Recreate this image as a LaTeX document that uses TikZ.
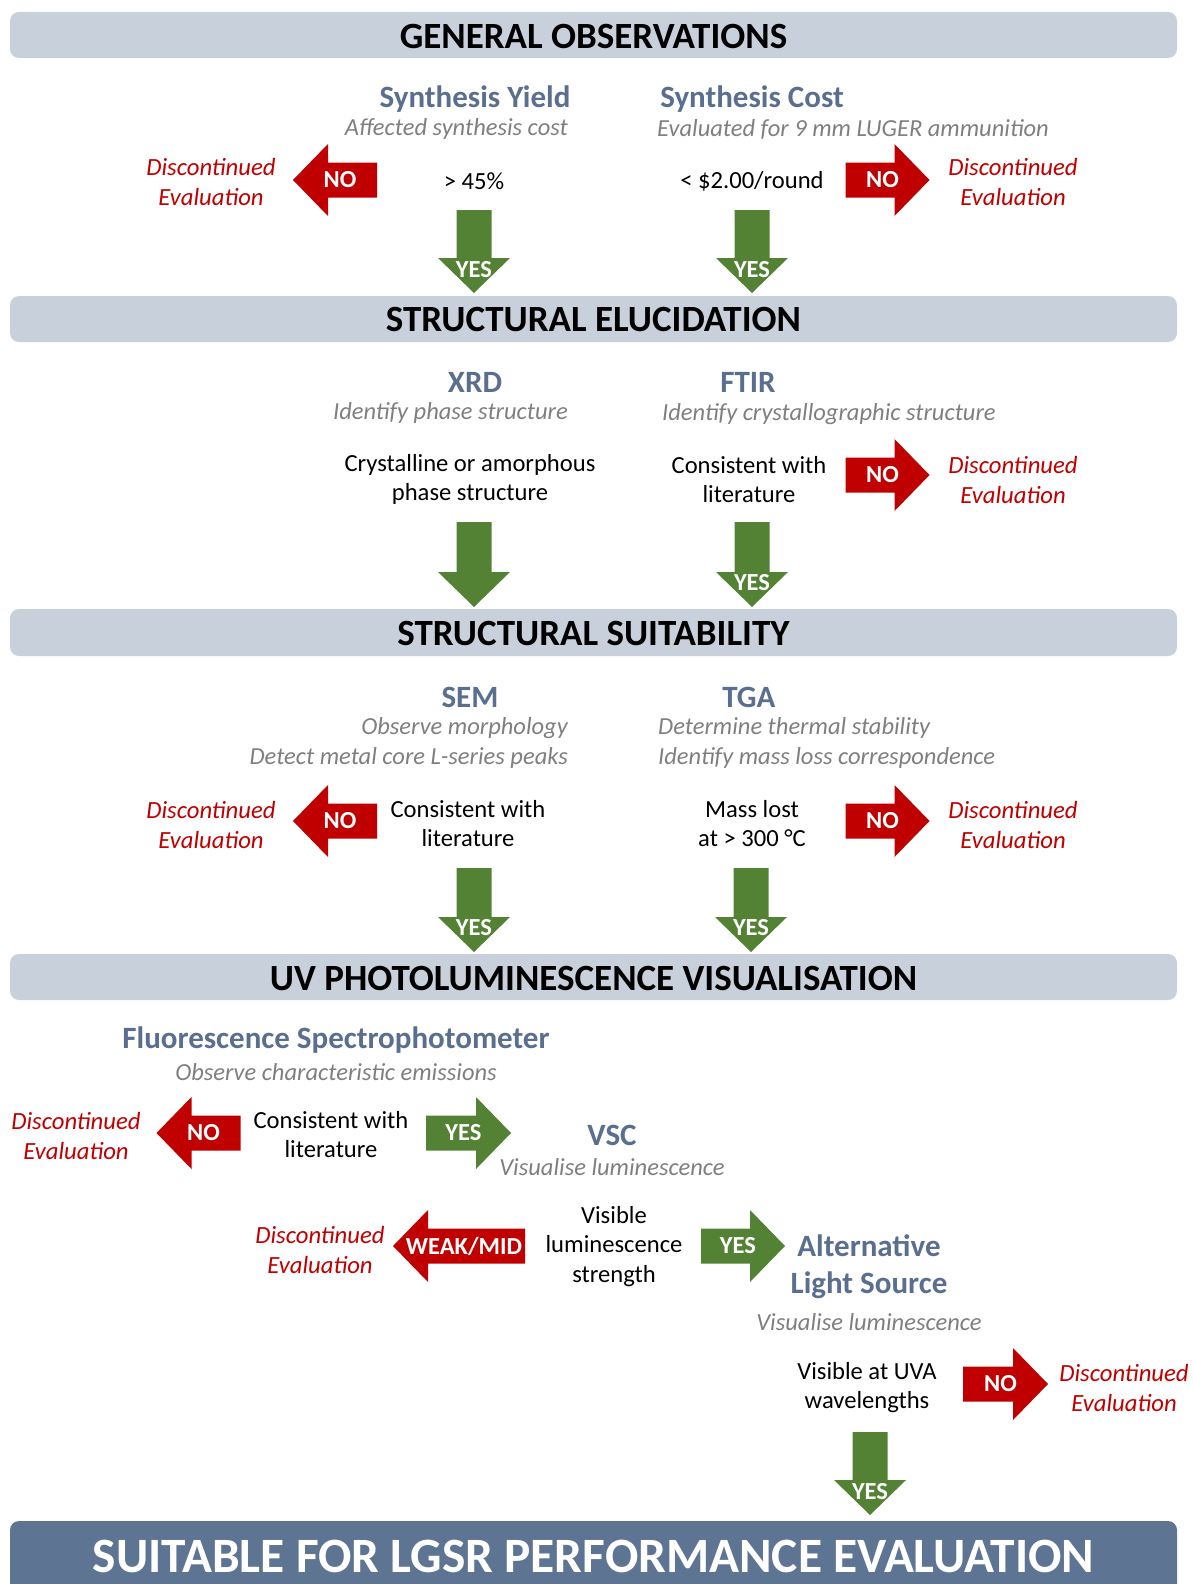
\documentclass[tikz,border=0pt]{standalone}
\usepackage{fontspec}
\setmainfont{Carlito}
\usetikzlibrary{calc}
\definecolor{band}{HTML}{C8D0DB}
\definecolor{darkband}{HTML}{5E7493}
\definecolor{slate}{HTML}{5A6F8F}
\definecolor{redA}{HTML}{C00000}
\definecolor{greenA}{HTML}{548235}
\definecolor{greyT}{HTML}{7F7F7F}
\tikzset{
  bandbox/.style={fill=band, rounded corners=9pt},
  bandtitle/.style={font=\fontsize{37}{42}\selectfont\bfseries, text=black, inner sep=0pt, yshift=-1pt},
  headtxt/.style={font=\fontsize{31}{37.5}\selectfont\bfseries, text=slate, align=center, inner sep=0pt, yshift=-2.5pt},
  subtxt/.style={font=\fontsize{24.5}{29}\selectfont\itshape, text=greyT, inner sep=0pt, yshift=-2pt},
  bodytxt/.style={font=\fontsize{24.6}{29.6}\selectfont, align=center, text=black, inner sep=0pt, yshift=-1.5pt},
  disctxt/.style={font=\fontsize{24.7}{30}\selectfont\itshape, text=redA, align=center, inner sep=0pt, yshift=-2pt},
  arrlab/.style={font=\fontsize{24.5}{28}\selectfont\bfseries, text=white, inner sep=0pt},
  finaltxt/.style={font=\fontsize{49.4}{56}\selectfont\bfseries, text=white, inner sep=0pt},
}
% #1 name, #2 x, #3 y, #4 rotation, #5 colour, #6 length, #7 label, #8 label offset
\newcommand{\blockarrow}[8]{%
  \pgfmathsetmacro{\hLen}{#6/2}\pgfmathsetmacro{\hBase}{#6/2-35}%
  \begin{scope}[shift={(#2,#3)}, rotate=#4]
    \fill[#5] (-\hLen,-17.5) -- (\hBase,-17.5) -- (\hBase,-36) -- (\hLen,0)
      -- (\hBase,36) -- (\hBase,17.5) -- (-\hLen,17.5) -- cycle;
    \node[arrlab] (#1) at (#8,0) {#7};
  \end{scope}}
\begin{document}
\begin{tikzpicture}[x=1pt, y=-1pt]
\useasboundingbox (0,0) rectangle (1192,1584);
\clip (0,0) rectangle (1192,1584);

% ---------- GENERAL OBSERVATIONS
\fill[bandbox] (10,12) rectangle (1177,58);
\node[bandtitle] (t1) at (593.5,35) {GENERAL OBSERVATIONS};
\node[headtxt] (yield) at (475,97) {Synthesis Yield};
\node[subtxt, anchor=east] (yieldsub) at (568,127) {Affected synthesis cost};
\node[headtxt] (cost) at (752,97) {Synthesis Cost};
\node[subtxt, anchor=west] (costsub) at (657,127) {Evaluated for 9 mm LUGER ammunition};
\node[bodytxt] (yieldc) at (474,180) {> 45\%};
\node[bodytxt] (costc) at (752,180) {< \$2.00/round};
\blockarrow{no1}{335}{180}{180}{redA}{84}{NO}{-5}
\node[disctxt] (d1) at (211,180) {Discontinued\\Evaluation};
\blockarrow{no2}{887.5}{180}{0}{redA}{84}{NO}{-5}
\node[disctxt] (d2) at (1013,180) {Discontinued\\Evaluation};
\blockarrow{yes1}{474}{251.5}{-90}{greenA}{83}{YES}{18}
\blockarrow{yes2}{752}{251.5}{-90}{greenA}{83}{YES}{18}

% ---------- STRUCTURAL ELUCIDATION
\fill[bandbox] (10,296) rectangle (1177,342);
\node[bandtitle] (t2) at (593.5,319) {STRUCTURAL ELUCIDATION};
\node[headtxt] (xrd) at (475,380) {XRD};
\node[subtxt, anchor=east] (xrdsub) at (568,411) {Identify phase structure};
\node[headtxt] (ftir) at (748,380) {FTIR};
\node[subtxt, anchor=west] (ftirsub) at (662,412) {Identify crystallographic structure};
\node[bodytxt] (xrdc) at (470,478) {Crystalline or amorphous\\phase structure};
\node[bodytxt] (ftirc) at (749,478) {Consistent with\\literature};
\blockarrow{no3}{887.5}{475}{0}{redA}{84}{NO}{-5}
\node[disctxt] (d3) at (1013,478) {Discontinued\\Evaluation};
\blockarrow{go3}{474}{564.5}{-90}{greenA}{85}{}{18}
\blockarrow{yes4}{752}{564.5}{-90}{greenA}{85}{YES}{18}

% ---------- STRUCTURAL SUITABILITY
\fill[bandbox] (10,609) rectangle (1177,656);
\node[bandtitle] (t3) at (593.5,632.5) {STRUCTURAL SUITABILITY};
\node[headtxt] (sem) at (470,695) {SEM};
\node[subtxt, anchor=east] (semsub1) at (568,726) {Observe morphology};
\node[subtxt, anchor=east] (semsub2) at (568,756) {Detect metal core L-series peaks};
\node[headtxt] (tga) at (749,695) {TGA};
\node[subtxt, anchor=west] (tgasub1) at (658,726) {Determine thermal stability};
\node[subtxt, anchor=west] (tgasub2) at (658,756) {Identify mass loss correspondence};
\blockarrow{no5}{335}{821}{180}{redA}{84}{NO}{-5}
\node[disctxt] (d5) at (211,823) {Discontinued\\Evaluation};
\node[bodytxt] (semc) at (468,822) {Consistent with\\literature};
\node[bodytxt] (tgac) at (752,822) {Mass lost\\at > 300 °C};
\blockarrow{no6}{887.5}{821}{0}{redA}{84}{NO}{-5}
\node[disctxt] (d6) at (1013,823) {Discontinued\\Evaluation};
\blockarrow{yes5}{474}{910}{-90}{greenA}{84}{YES}{18}
\blockarrow{yes6}{751}{910}{-90}{greenA}{84}{YES}{18}

% ---------- UV PHOTOLUMINESCENCE VISUALISATION
\fill[bandbox] (10,954) rectangle (1177,1000);
\node[bandtitle] (t4) at (593.5,977) {UV PHOTOLUMINESCENCE VISUALISATION};
\node[headtxt] (fluor) at (336,1038) {Fluorescence Spectrophotometer};
\node[subtxt] (fluorsub) at (336,1070) {Observe characteristic emissions};
\blockarrow{no7}{198.5}{1133}{180}{redA}{84}{NO}{-5}
\node[disctxt] (d7) at (76,1134) {Discontinued\\Evaluation};
\node[bodytxt] (fluorc) at (331,1133) {Consistent with\\literature};
\blockarrow{yes7}{468.5}{1133}{0}{greenA}{85}{YES}{-5}
\node[headtxt] (vsc) at (612,1133) {VSC};
\node[subtxt] (vscsub) at (612,1165) {Visualise luminescence};
\blockarrow{weak}{459}{1246}{180}{redA}{132}{WEAK/MID}{-5}
\node[disctxt] (d8) at (320,1248) {Discontinued\\Evaluation};
\node[bodytxt] (vscc) at (614,1245) {Visible\\luminescence\\strength};
\blockarrow{yes8}{743}{1246}{0}{greenA}{84}{YES}{-5}
\node[headtxt] (als) at (869,1264) {Alternative\\Light Source};
\node[subtxt] (alssub) at (869,1320) {Visualise luminescence};
\node[bodytxt] (alsc) at (867,1386) {Visible at UVA\\wavelengths};
\blockarrow{no9}{1005.5}{1384}{0}{redA}{85}{NO}{-5}
\node[disctxt] (d9) at (1124,1386) {Discontinued\\Evaluation};
\blockarrow{yes9}{870}{1473.5}{-90}{greenA}{83}{YES}{18}

% ---------- FINAL
\fill[darkband, rounded corners=9pt] (10,1521) rectangle (1177,1620);
\node[finaltxt] (final) at (593.5,1556) {SUITABLE FOR LGSR PERFORMANCE EVALUATION};
\end{tikzpicture}
\end{document}
